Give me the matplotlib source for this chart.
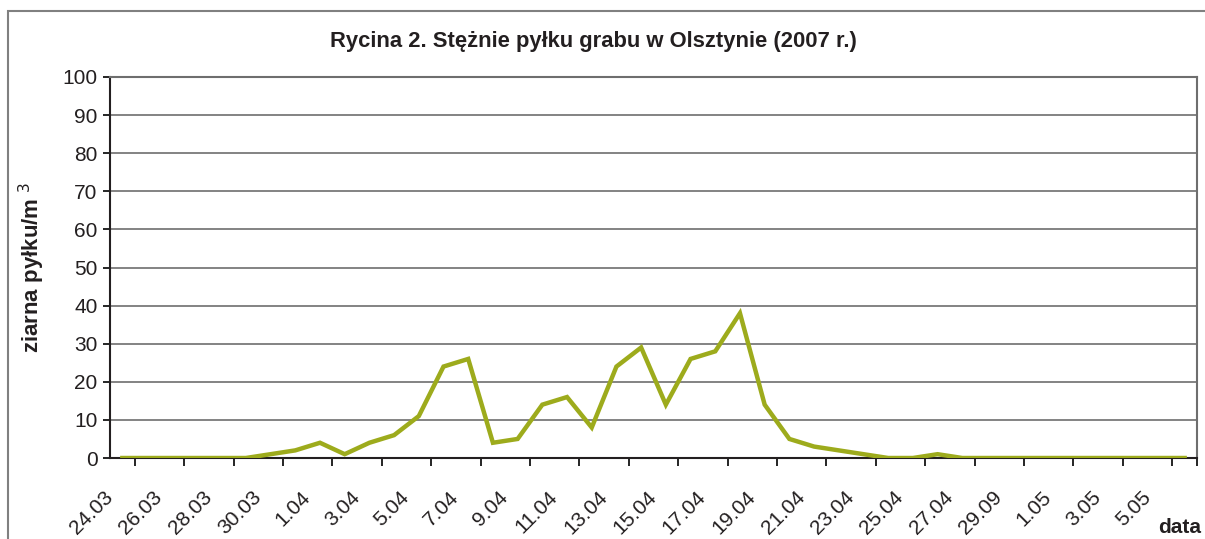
import matplotlib.pyplot as plt
from matplotlib.patches import Rectangle

plt.rcParams['font.family'] = ['Liberation Sans', 'DejaVu Sans']

# daty pomiarow 24.03 - 6.05 (etykieta 29.04 w oryginale jako "29.09")
dates = ['24.03', '25.03', '26.03', '27.03', '28.03', '29.03', '30.03', '31.03',
         '1.04', '2.04', '3.04', '4.04', '5.04', '6.04', '7.04', '8.04', '9.04',
         '10.04', '11.04', '12.04', '13.04', '14.04', '15.04', '16.04', '17.04',
         '18.04', '19.04', '20.04', '21.04', '22.04', '23.04', '24.04', '25.04',
         '26.04', '27.04', '28.04', '29.09', '30.04', '1.05', '2.05', '3.05',
         '4.05', '5.05', '6.05']
pollen = [0, 0, 0, 0, 0, 0, 1, 2, 4, 1, 4, 6, 11, 24, 26, 4, 5, 14, 16, 8,
          24, 29, 14, 26, 28, 38, 14, 5, 3, 2, 1, 0, 0, 1, 0, 0, 0, 0, 0, 0,
          0, 0, 0, 0]

fig = plt.figure(figsize=(12.05, 5.39), dpi=100)
ax = fig.add_axes([110 / 1205, 1 - 458 / 539, 1087 / 1205, 381 / 539])

x = list(range(len(dates)))
ax.plot(x, pollen, color='#9dab1c', linewidth=3.2, solid_joinstyle='miter', zorder=3)

ax.set_xlim(-0.5, len(dates) - 0.5)
ax.set_ylim(0, 100)
ax.set_yticks(range(0, 101, 10))
ax.yaxis.grid(True, color='#6e6e6e', linewidth=1.2)
ax.set_axisbelow(True)

# kreski na granicach kategorii, etykiety co druga data
ax.set_xticks([i - 0.5 for i in range(len(dates) + 1)], minor=True)
ax.set_xticks([i - 0.5 for i in range(0, len(dates), 2)])
ax.set_xticklabels(dates[::2], rotation=45, ha='right', va='center',
                   rotation_mode='anchor', fontsize=15, color='#231f20')
ax.tick_params(axis='x', which='major', length=0, pad=26)
ax.tick_params(axis='x', which='minor', length=6, width=1.2, direction='out')
ax.tick_params(axis='y', length=5, width=1.2, labelsize=15, labelcolor='#231f20', pad=4)

for side in ['left', 'bottom']:
    ax.spines[side].set_color('#231f20')
    ax.spines[side].set_linewidth(1.5)
for side in ['top', 'right']:
    ax.spines[side].set_color('#6e6e6e')
    ax.spines[side].set_linewidth(1.5)

fig.text(593 / 1205, 1 - 47 / 539, 'Rycina 2. Stężnie pyłku grabu w Olsztynie (2007 r.)',
         ha='center', va='baseline', fontsize=15.8, fontweight='bold', color='#231f20')
fig.text(32 / 1205, 1 - 267 / 539, 'ziarna pyłku/m $^{3}$', rotation=90,
         ha='center', va='center', fontsize=16, fontweight='bold', color='#231f20')
fig.text(1180 / 1205, 1 - 533 / 539, 'data', ha='center', va='baseline',
         fontsize=15, fontweight='bold', color='#231f20')

# ramka wokol rysunku
fig.patches.append(Rectangle((8 / 1205, -0.1), 1.2, 1 - 11 / 539 + 0.1,
                             transform=fig.transFigure, fill=False,
                             edgecolor='#808080', linewidth=1.5))

fig.savefig('out.png', dpi=100)
